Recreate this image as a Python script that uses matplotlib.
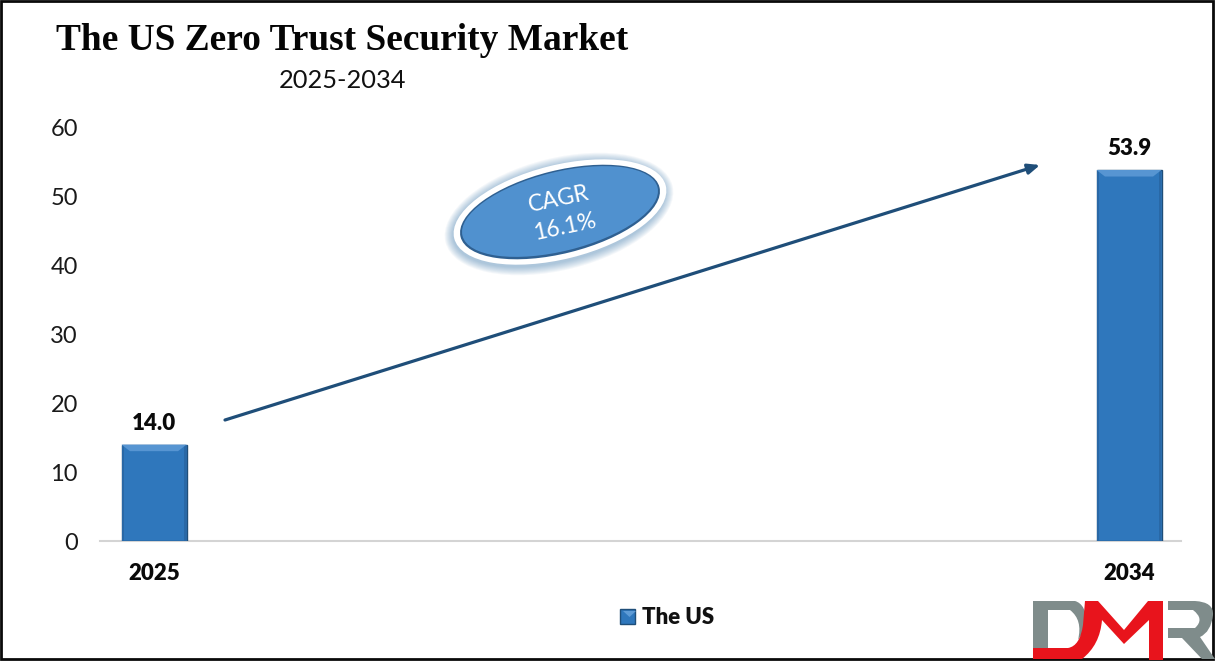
import matplotlib
matplotlib.use("Agg")
import matplotlib.pyplot as plt
from matplotlib.patches import Ellipse, Polygon, PathPatch, Rectangle
from matplotlib.path import Path

years = ["2025", "2034"]
values = [14.0, 53.9]
y_ticks = [0, 10, 20, 30, 40, 50, 60]
series_name = "The US"
title = "The US Zero Trust Security Market"
subtitle = "2025-2034"
cagr = "CAGR\n16.1%"

W, H = 1216, 663
SANS = "Lato"
BOLD = "heavy"
fig = plt.figure(figsize=(W / 100, H / 100), dpi=100, facecolor="white")

# Main chart axes
ax = fig.add_axes([100 / W, (H - 541) / H, 1081 / W, 413 / H])
ax.set_facecolor("none")
bars = ax.bar([0, 1], values, width=65 / 975, color="#2F77BC", edgecolor="#1F4E79",
              linewidth=1.0, label=series_name, zorder=3)
ax.set_xlim(-54 / 975, 1 + 52 / 975)
ax.set_ylim(0, 60)
ax.set_yticks(y_ticks)
ax.set_xticks([0, 1], years)
ax.tick_params(axis="y", length=0, labelsize=17, pad=16, labelcolor="#1a1a1a")
ax.tick_params(axis="x", length=0, labelsize=16, pad=16)
for lab in ax.get_yticklabels():
    lab.set_fontfamily(SANS)
for lab in ax.get_xticklabels():
    lab.set_fontfamily(SANS)
    lab.set_fontweight(BOLD)
    lab.set_color("#0a0a0a")
for s in ["top", "right", "left"]:
    ax.spines[s].set_visible(False)
ax.spines["bottom"].set_color("#D4D4D4")
ax.spines["bottom"].set_linewidth(1.5)

# Bevel on top of the bars and darker sides, derived from each bar
for b in bars:
    x0, w, h = b.get_x(), b.get_width(), b.get_height()
    dx, dy = w * 0.13, 0.95
    ax.add_patch(Rectangle((x0, 0), w * 0.035, h, color="#2968A6", lw=0, zorder=4))
    ax.add_patch(Rectangle((x0 + w * 0.965, 0), w * 0.035, h, color="#2968A6", lw=0, zorder=4))
    ax.add_patch(Polygon([(x0, h), (x0 + w, h), (x0 + w - dx, h - dy), (x0 + dx, h - dy)],
                         closed=True, color="#5795D2", lw=0, zorder=4))
    ax.annotate(f"{h:.1f}", (x0 + w / 2, h), xytext=(0, 8), textcoords="offset points",
                ha="center", va="bottom", fontsize=16, fontweight=BOLD,
                family=SANS, color="#0a0a0a", zorder=5)

leg = fig.legend(handles=[bars], labels=[series_name], loc="center", frameon=False,
                 bbox_to_anchor=(667 / W, (H - 618) / H), handlelength=0.68, handleheight=0.68,
                 handletextpad=0.3, prop={"family": SANS, "weight": BOLD, "size": 16})
leg.get_texts()[0].set_color("#111111")

# Overlay in pixel coordinates for annotations and decoration
ov = fig.add_axes([0, 0, 1, 1], zorder=10)
ov.set_xlim(0, W)
ov.set_ylim(H, 0)
ov.axis("off")

ov.text(56, 41, title, family="Liberation Serif", weight="bold", fontsize=26.9,
        ha="left", va="center", color="#050505")
ov.text(342, 80, subtitle, family=SANS, fontsize=18.3, ha="center", va="center", color="#111111")

# Trend arrow
ov.annotate("", xy=(1040, 165), xytext=(225, 420),
            arrowprops=dict(arrowstyle="-|>,head_length=0.7,head_width=0.3",
                            color="#1F4E79", lw=2.3, shrinkA=0, shrinkB=0))

# CAGR badge
cx, cy, ang = 560, 212, -14
for i in range(9, 0, -1):
    ov.add_patch(Ellipse((cx - 1, cy + 2), 2 * (108 + i), 2 * (47 + i), angle=ang,
                         color="#2F6FA8", alpha=0.05, lw=0))
ov.add_patch(Ellipse((cx, cy), 218, 94, angle=ang, color="white", lw=0))
ov.add_patch(Ellipse((cx, cy), 205, 83, angle=ang, color="#2F6091", lw=0))
ov.add_patch(Ellipse((cx, cy - 0.5), 201, 79, angle=ang, color="#5091CF", lw=0))
ov.text(cx + 2, cy + 1, cagr, family=SANS, fontsize=16.5, color="white", rotation=12,
        ha="center", va="center", linespacing=1.45, rotation_mode="anchor")

# Frame
ov.add_patch(Rectangle((1, 1), 1212, 658, fill=False, ec="#0a0a0a", lw=2))

# Legend swatch bevel
ov.add_patch(Polygon([(623, 611), (636, 611), (629.5, 617)], closed=True, color="#5E9BD6", lw=0))

# Logo
M, L, C, Z = Path.MOVETO, Path.LINETO, Path.CURVE3, Path.CLOSEPOLY
GREY, RED = "#7F8C8B", "#E8141C"
ov.add_patch(PathPatch(Path(
    [(1033, 601), (1075, 601), (1086, 604), (1088, 625), (1078, 640), (1083, 620),
     (1070, 610), (1048, 610), (1048, 648), (1033, 648), (1033, 601)],
    [M, L, C, C, L, C, C, L, L, L, Z]), color=GREY, lw=0))
ov.add_patch(PathPatch(Path(
    [(1168, 601), (1195, 601), (1214, 602), (1213, 615), (1211, 632), (1200, 637),
     (1215, 659), (1202, 659), (1182, 638), (1168, 638), (1168, 628), (1195, 628),
     (1205, 619), (1193, 610), (1168, 610), (1168, 601)],
    [M, L, C, C, C, C, L, L, L, L, L, L, C, C, L, Z]), color=GREY, lw=0))
ov.add_patch(PathPatch(Path(
    [(1033, 648), (1068, 648), (1080, 646), (1083, 625), (1085, 601), (1098, 601),
     (1124, 630), (1148, 601), (1163, 601), (1163, 660), (1149, 660), (1149, 620),
     (1124, 644), (1102, 620), (1100, 645), (1082, 659), (1033, 659), (1033, 648)],
    [M, L, C, C, L, L, L, L, L, L, L, L, L, L, C, C, L, Z]), color=RED, lw=0))

fig.savefig("out.png", dpi=100)
